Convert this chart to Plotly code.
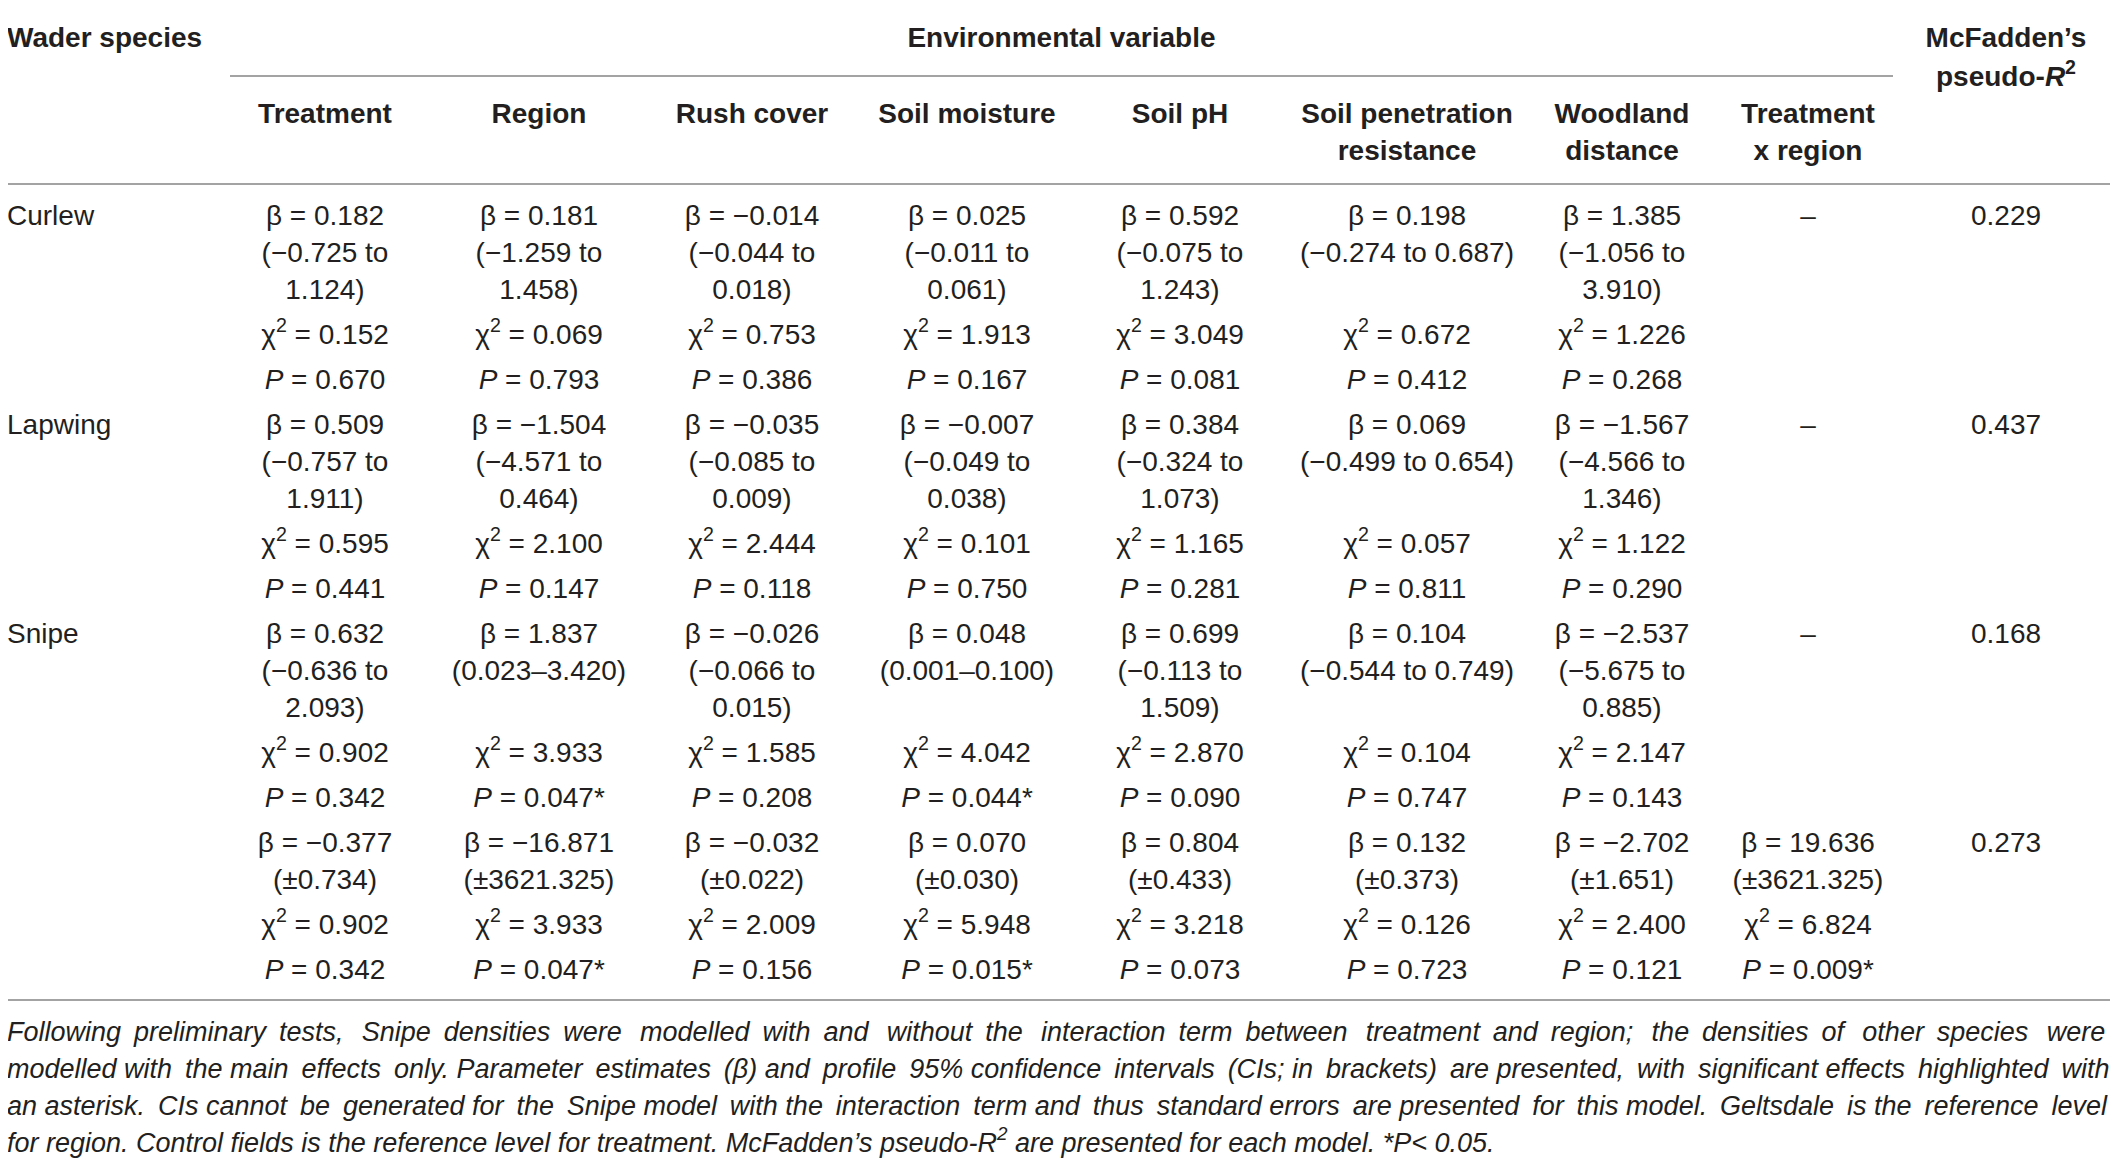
import plotly.graph_objects as go

# ---- table content ----
species = ["Curlew", "Lapwing", "Snipe", ""]
variables = ["Treatment", "Region", "Rush cover", "Soil moisture", "Soil pH",
             "Soil penetration<br>resistance", "Woodland<br>distance", "Treatment<br>x region"]

curlew_beta = [0.182, 0.181, -0.014, 0.025, 0.592, 0.198, 1.385]
curlew_lo = [-0.725, -1.259, -0.044, -0.011, -0.075, -0.274, -1.056]
curlew_hi = [1.124, 1.458, 0.018, 0.061, 1.243, 0.687, 3.910]
curlew_chi2 = [0.152, 0.069, 0.753, 1.913, 3.049, 0.672, 1.226]
curlew_p = [0.670, 0.793, 0.386, 0.167, 0.081, 0.412, 0.268]

lapwing_beta = [0.509, -1.504, -0.035, -0.007, 0.384, 0.069, -1.567]
lapwing_lo = [-0.757, -4.571, -0.085, -0.049, -0.324, -0.499, -4.566]
lapwing_hi = [1.911, 0.464, 0.009, 0.038, 1.073, 0.654, 1.346]
lapwing_chi2 = [0.595, 2.100, 2.444, 0.101, 1.165, 0.057, 1.122]
lapwing_p = [0.441, 0.147, 0.118, 0.750, 0.281, 0.811, 0.290]

snipe_beta = [0.632, 1.837, -0.026, 0.048, 0.699, 0.104, -2.537]
snipe_lo = [-0.636, 0.023, -0.066, 0.001, -0.113, -0.544, -5.675]
snipe_hi = [2.093, 3.420, 0.015, 0.100, 1.509, 0.749, 0.885]
snipe_chi2 = [0.902, 3.933, 1.585, 4.042, 2.870, 0.104, 2.147]
snipe_p = [0.342, 0.047, 0.208, 0.044, 0.090, 0.747, 0.143]

# snipe model with treatment x region interaction (standard errors)
snipe_int_beta = [-0.377, -16.871, -0.032, 0.070, 0.804, 0.132, -2.702, 19.636]
snipe_int_se = [0.734, 3621.325, 0.022, 0.030, 0.433, 0.373, 1.651, 3621.325]
snipe_int_chi2 = [0.902, 3.933, 2.009, 5.948, 3.218, 0.126, 2.400, 6.824]
snipe_int_p = [0.342, 0.047, 0.156, 0.015, 0.073, 0.723, 0.121, 0.009]

pseudo_r2 = [0.229, 0.437, 0.168, 0.273]

footnote = [
    "Following preliminary tests, Snipe densities were modelled with and without the interaction term between treatment and region; the densities of other species were",
    "modelled with the main effects only. Parameter estimates (β) and profile 95% confidence intervals (CIs; in brackets) are presented, with significant effects highlighted with",
    "an asterisk. CIs cannot be generated for the Snipe model with the interaction term and thus standard errors are presented for this model. Geltsdale is the reference level",
    "for region. Control fields is the reference level for treatment. McFadden’s pseudo-<i>R</i><sup>2</sup> are presented for each model. *<i>P</i>< 0.05.",
]

# ---- layout constants (page pixel units on the axes) ----
W, H = 2118, 1160
page_margin = 8          # browser body margin around the plot div
col_x = [325, 539, 752, 967, 1180, 1407, 1622, 1808]
r2_x = 2006
label_x = 7
wide_cols = {5}
pitch = 37
gap = 45
body_top = 215
text_dy = 3
foot_size = 27
# thin spaces spread over the word gaps to imitate the justified footnote lines
foot_thin_spaces = [30, 15, 17, 0]
text_col = "#231f20"
rule_col = "#a3a3a3"


def num(v):
    return f"{v:.3f}".replace("-", "−")


def beta_cell(b, lo, hi, wide):
    lines = [f"β = {num(b)}"]
    if lo >= 0:
        lines.append(f"({num(lo)}–{num(hi)})")
    elif wide:
        lines.append(f"({num(lo)} to {num(hi)})")
    else:
        lines += [f"({num(lo)} to", f"{num(hi)})"]
    return lines


def p_cell(p):
    return f"<i>P</i> = {num(p)}" + ("*" if p < 0.05 else "")


def justify(line, n):
    words = line.split(" ")
    g = len(words) - 1
    out = words[0]
    for i, w in enumerate(words[1:]):
        k = (i + 1) * n // g - i * n // g
        out += " " + "\u2009" * k + w
    return out


groups = [
    dict(beta=[beta_cell(b, l, h, i in wide_cols) for i, (b, l, h) in enumerate(zip(curlew_beta, curlew_lo, curlew_hi))]
         + [["–"]], chi2=curlew_chi2, p=curlew_p),
    dict(beta=[beta_cell(b, l, h, i in wide_cols) for i, (b, l, h) in enumerate(zip(lapwing_beta, lapwing_lo, lapwing_hi))]
         + [["–"]], chi2=lapwing_chi2, p=lapwing_p),
    dict(beta=[beta_cell(b, l, h, i in wide_cols) for i, (b, l, h) in enumerate(zip(snipe_beta, snipe_lo, snipe_hi))]
         + [["–"]], chi2=snipe_chi2, p=snipe_p),
    dict(beta=[[f"β = {num(b)}", f"(±{s:.3f})"] for b, s in zip(snipe_int_beta, snipe_int_se)],
         chi2=snipe_int_chi2, p=snipe_int_p),
]

cx, cy, ct = [], [], []
lx, ly, lt = [], [], []
y = body_top
for g, name, r2 in zip(groups, species, pseudo_r2):
    lx.append(label_x); ly.append(y); lt.append(name)
    cx.append(r2_x); cy.append(y); ct.append(f"{r2:.3f}")
    nmax = max(len(c) for c in g["beta"])
    for j, cell in enumerate(g["beta"]):
        for k, line in enumerate(cell):
            cx.append(col_x[j]); cy.append(y + k * pitch); ct.append(line)
    y_chi = y + (nmax - 1) * pitch + gap
    y_p = y_chi + gap
    for j, (c, p) in enumerate(zip(g["chi2"], g["p"])):
        cx.append(col_x[j]); cy.append(y_chi); ct.append(f"χ<sup>2</sup> = {num(c)}")
        cx.append(col_x[j]); cy.append(y_p); ct.append(p_cell(p))
    y = y_p + gap

bottom_rule = y - gap + 31

# header
hx, hy, ht = [], [], []
for j, v in enumerate(variables):
    for k, line in enumerate(v.split("<br>")):
        hx.append(col_x[j]); hy.append(113 + k * pitch); ht.append(f"<b>{line}</b>")
env_span = (230, 1893)
hx += [(env_span[0] + env_span[1]) / 2, r2_x, r2_x]
hy += [37, 37, 76]
ht += ["<b>Environmental variable</b>", "<b>McFadden’s</b>", "<b>pseudo-<i>R</i><sup>2</sup></b>"]

foot_y = [bottom_rule + 31 + k * pitch for k in range(len(footnote))]
foot_t = [f"<i>{justify(t, n)}</i>" for t, n in zip(footnote, foot_thin_spaces)]


def shift(vals):
    return [v + text_dy for v in vals]


fig = go.Figure()
fig.add_trace(go.Scatter(x=cx, y=shift(cy), text=ct, mode="text", textposition="middle center",
                         textfont=dict(size=28, color=text_col), hoverinfo="skip"))
fig.add_trace(go.Scatter(x=lx, y=shift(ly), text=lt, mode="text", textposition="middle right",
                         textfont=dict(size=28, color=text_col), hoverinfo="skip"))
fig.add_trace(go.Scatter(x=hx, y=shift(hy), text=ht, mode="text", textposition="middle center",
                         textfont=dict(size=28, color=text_col), hoverinfo="skip"))
fig.add_trace(go.Scatter(x=[label_x], y=shift([37]), text=["<b>Wader species</b>"], mode="text",
                         textposition="middle right", textfont=dict(size=28, color=text_col),
                         hoverinfo="skip"))
fig.add_trace(go.Scatter(x=[label_x] * len(footnote), y=shift(foot_y), text=foot_t, mode="text",
                         textposition="middle right", textfont=dict(size=foot_size, color=text_col),
                         hoverinfo="skip"))

# horizontal rules
for y0, xa, xb in [(5, page_margin, W + page_margin), (76, env_span[0], env_span[1]),
                   (184, page_margin, W + 2), (bottom_rule, page_margin, W + 2)]:
    fig.add_shape(type="line", xref="x", yref="y", x0=xa, x1=xb, y0=y0, y1=y0,
                  line=dict(color=rule_col, width=2))

fig.update_layout(
    width=W, height=H,
    margin=dict(l=0, r=0, t=0, b=0),
    paper_bgcolor="white", plot_bgcolor="white",
    showlegend=False,
    font=dict(family="Liberation Sans, Arial, sans-serif", color=text_col),
    xaxis=dict(range=[page_margin, W + page_margin], visible=False, fixedrange=True),
    yaxis=dict(range=[H + page_margin, page_margin], visible=False, fixedrange=True),
)

fig.write_html("out.html")
